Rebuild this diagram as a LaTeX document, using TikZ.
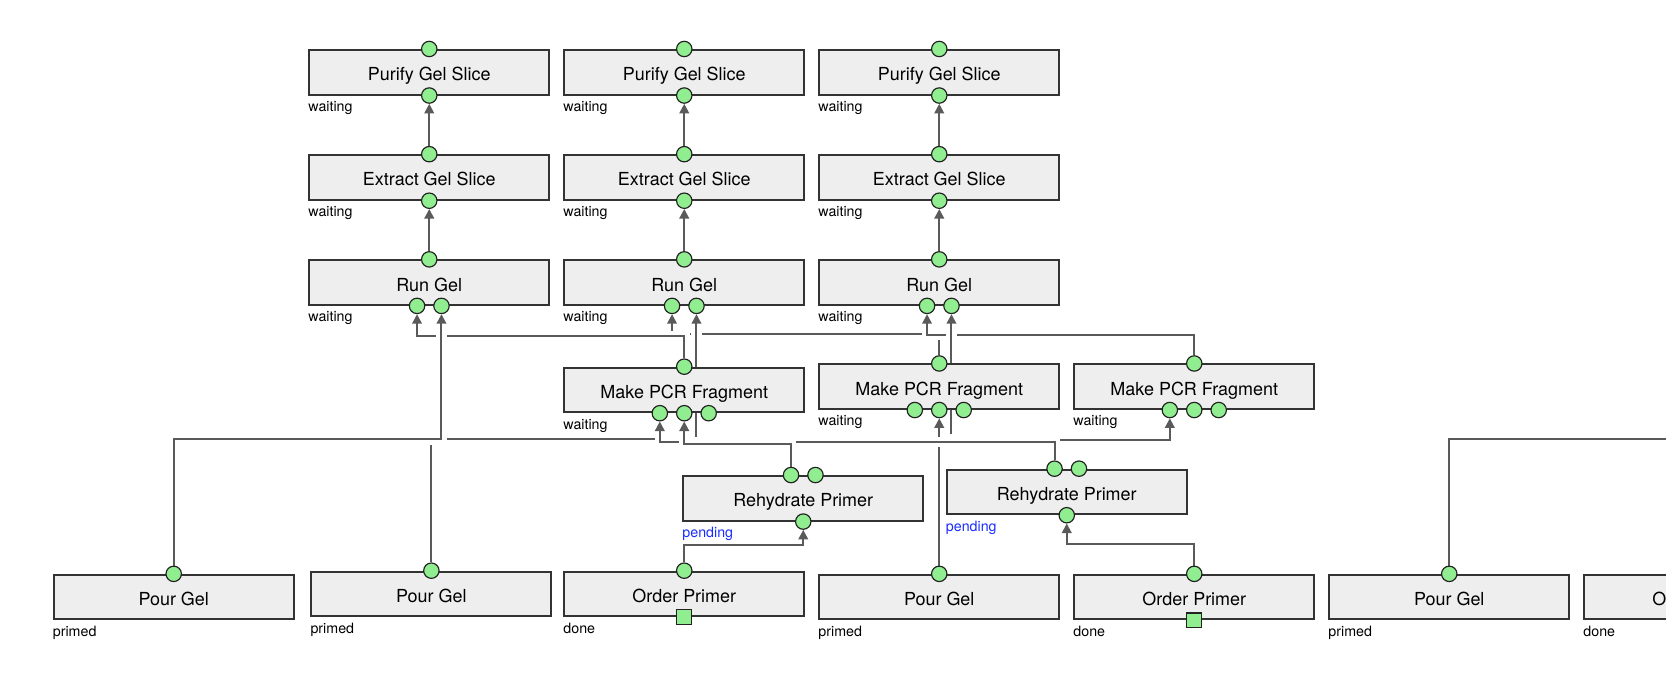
\documentclass[tikz,border=0pt]{standalone}
\usepackage{fontspec}
\setmainfont{TeX Gyre Heros}
\usetikzlibrary{arrows.meta,backgrounds}
\definecolor{boxfill}{HTML}{EEEEEE}
\definecolor{boxline}{HTML}{333333}
\definecolor{portfill}{HTML}{90EE90}
\definecolor{portline}{HTML}{222222}
\definecolor{wirecol}{HTML}{5A5A5A}
\definecolor{pendingblue}{RGB}{25,45,255}

\begin{document}
\begin{tikzpicture}[x=1pt,y=-1pt,
  op/.style={draw=boxline, fill=boxfill, line width=1.8pt, minimum width=226pt,
    minimum height=42pt, inner sep=0pt, text height=18pt, text depth=2pt,
    font=\fontsize{16.9pt}{18pt}\selectfont},
  port/.style={circle, draw=portline, fill=portfill, line width=1.1pt,
    minimum size=14.5pt, inner sep=0pt},
  sqport/.style={rectangle, draw=portline, fill=portfill, line width=1.1pt,
    minimum size=14pt, inner sep=0pt},
  status/.style={anchor=base west, inner sep=0pt, font=\fontsize{13.4pt}{15pt}\selectfont},
  wire/.style={draw=wirecol, line width=1.9pt, -{Triangle[length=9pt,width=9pt]},
    preaction={draw=white, line width=10pt, -}},
]
\useasboundingbox (0,0) rectangle (1568,636);

% ---------- upper three columns ----------
\foreach \c/\x in {1/404,2/644,3/884}{
  \node[op] (pu\c) at (\x,68) {Purify Gel Slice};
  \node[port] (pu\c t) at (pu\c.north) {};
  \node[port] (pu\c b) at (pu\c.south) {};
  \path (pu\c.south west) ++(0,15) node[status] {waiting};

  \node[op] (ex\c) at (\x,167) {Extract Gel Slice};
  \node[port] (ex\c t) at (ex\c.north) {};
  \node[port] (ex\c b) at (ex\c.south) {};
  \path (ex\c.south west) ++(0,15) node[status] {waiting};

  \node[op] (rg\c) at (\x,266) {Run Gel};
  \node[port] (rg\c t) at (rg\c.north) {};
  \node[port] (rg\c L) at ([xshift=-11.5pt]rg\c.south) {};
  \node[port] (rg\c R) at ([xshift=11.5pt]rg\c.south) {};
  \path (rg\c.south west) ++(0,15) node[status] {waiting};
}

% ---------- PCR fragments ----------
\foreach \c/\x/\y in {2/644/367,3/884/364,4/1124/364}{
  \node[op] (mp\c) at (\x,\y) {Make PCR Fragment};
  \node[port] (mp\c t) at (mp\c.north) {};
  \node[port] (mp\c L) at ([xshift=-23pt]mp\c.south) {};
  \node[port] (mp\c m) at (mp\c.south) {};
  \node[port] (mp\c r) at ([xshift=23pt]mp\c.south) {};
  \path (mp\c.south west) ++(0,15) node[status] {waiting};
}

% ---------- primer rehydration ----------
\foreach \c/\x/\y in {1/756/469,2/1004/463}{
  \node[op] (rh\c) at (\x,\y) {Rehydrate Primer};
  \node[port] (rh\c L) at ([xshift=-11.5pt]rh\c.north) {};
  \node[port] (rh\c R) at ([xshift=11.5pt]rh\c.north) {};
  \node[port] (rh\c b) at (rh\c.south) {};
  \path (rh\c.south west) ++(0,15) node[status, text=pendingblue] {pending};
}

% ---------- bottom row ----------
\node[op] (pg1) at (163.5,562) {Pour Gel};
\node[port] (pg1t) at (pg1.north) {};
\path (pg1.south west) ++(0,15) node[status] {primed};

\node[op] (pg2) at (406,559) {Pour Gel};
\node[port] (pg2t) at (pg2.north) {};
\path (pg2.south west) ++(0,15) node[status] {primed};

\node[op] (op1) at (644,559) {Order Primer};
\node[port] (op1t) at (op1.north) {};
\node[sqport] (op1s) at (op1.south) {};
\path (op1.south west) ++(0,15) node[status] {done};

\node[op] (pg3) at (884,562) {Pour Gel};
\node[port] (pg3t) at (pg3.north) {};
\path (pg3.south west) ++(0,15) node[status] {primed};

\node[op] (op2) at (1124,562) {Order Primer};
\node[port] (op2t) at (op2.north) {};
\node[sqport] (op2s) at (op2.south) {};
\path (op2.south west) ++(0,15) node[status] {done};

\node[op] (pg4) at (1364,562) {Pour Gel};
\node[port] (pg4t) at (pg4.north) {};
\path (pg4.south west) ++(0,15) node[status] {primed};

\node[op] (op3) at (1604,562) {Order Primer};
\path (op3.south west) ++(0,15) node[status] {done};

% ---------- routing levels ----------
\coordinate (yR1) at (0,316.5);
\coordinate (yR2) at (0,314.5);
\coordinate (yR3) at (0,315);
\coordinate (yG1) at (0,413.5);
\coordinate (yG2) at (0,413);
\coordinate (yG3) at (0,413);
\coordinate (yM1) at (0,418);
\coordinate (yM2) at (0,416);
\coordinate (yM3) at (0,413.5);
\coordinate (yM4) at (0,414);
\coordinate (yP1) at (0,513);
\coordinate (yP2) at (0,512);
\coordinate (g4end) at (1720,413.5);

% ---------- connectors (drawn underneath, later ones cut gaps) ----------
\begin{scope}[on background layer]
  \foreach \c in {1,2,3}{
    \draw[wire] (ex\c t) -- (pu\c b.south);
    \draw[wire] (rg\c t) -- (ex\c b.south);
  }
  \draw[wire] (op1t) -- (op1t |- yP1) -| (rh1b.south);
  \draw[wire] (op2t) -- (op2t |- yP2) -| (rh2b.south);
  \draw[wire] (pg4t) |- (g4end);
  \draw[wire] (mp3t) -- (mp3t |- yR2) -| (rg2L.south);
  \draw[wire] (mp2t) -- (mp2t |- yR1) -| (rg1L.south);
  \draw[wire] (pg2t) -- (pg2t |- yG2) -| (rg2R.south);
  \draw[wire] (pg1t) -- (pg1t |- yG1) -| (rg1R.south);
  \draw[wire] (mp4t) -- (mp4t |- yR3) -| (rg3L.south);
  \draw[wire] (pg3t) -- (pg3t |- yG3) -| (rg3R.south);
  \draw[wire] (rh2L) -- (rh2L |- yM3) -| (mp3m.south);
  \draw[wire] (rh2L) -- (rh2L |- yM4) -| (mp4L.south);
  \draw[wire] (rh2L) -- (rh2L |- yM2) -| (mp2L.south);
  \draw[wire] (rh1L) -- (rh1L |- yM1) -| (mp2m.south);
\end{scope}
\end{tikzpicture}
\end{document}
